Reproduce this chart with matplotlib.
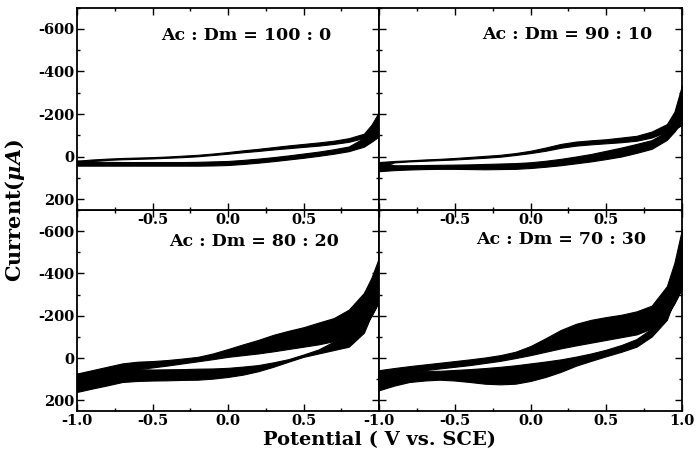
import numpy as np
import matplotlib.pyplot as plt
from matplotlib.ticker import MultipleLocator, FixedLocator

plt.rcParams['font.family'] = ['DejaVu Serif']
plt.rcParams['font.weight'] = 'bold'
plt.rcParams['mathtext.fontset'] = 'dejavuserif'
plt.rcParams['axes.unicode_minus'] = False

# potential grid (V vs. SCE)
potential = [-1.0, -0.9, -0.8, -0.7, -0.6, -0.5, -0.4, -0.3, -0.2, -0.1, 0.0,
             0.1, 0.2, 0.3, 0.4, 0.5, 0.6, 0.7, 0.8, 0.9, 0.95, 1.0]

# current envelopes (uA) of the cycle bundles: forward sweep band, reverse sweep band
# Ac : Dm = 100 : 0
fwd_top_100 = [19, 13, 9, 6, 4, 2, -1, -5, -9, -15, -22, -30, -37, -45, -53, -60, -67, -75, -87, -108, -150, -210]
fwd_bot_100 = [40, 20, 15, 12, 10, 8, 5, 2, -2, -8, -14, -21, -27, -34, -40, -46, -52, -60, -70, -88, -95, -100]
rev_top_100 = [18, 22, 24, 25, 25, 25, 25, 25, 24, 22, 20, 15, 9, 2, -6, -15, -24, -35, -48, -88, -95, -100]
rev_bot_100 = [42, 42, 42, 42, 42, 42, 42, 42, 42, 41, 39, 34, 28, 21, 13, 5, -4, -14, -26, -47, -70, -95]

# Ac : Dm = 90 : 10
fwd_top_90 = [25, 20, 17, 13, 10, 6, 1, -4, -9, -17, -28, -43, -60, -71, -77, -82, -90, -98, -118, -153, -211, -335]
fwd_bot_90 = [50, 27, 22, 19, 16, 13, 9, 5, 0, -8, -17, -28, -42, -52, -58, -63, -68, -75, -90, -118, -130, -150]
rev_top_90 = [25, 40, 40, 39, 38, 37, 36, 34, 32, 30, 26, 19, 10, -1, -13, -28, -43, -60, -78, -118, -130, -150]
rev_bot_90 = [68, 63, 60, 58, 57, 57, 58, 59, 58, 57, 53, 47, 40, 31, 22, 11, -1, -18, -37, -79, -118, -164]

# Ac : Dm = 80 : 20
fwd_top_80 = [73, 57, 41, 25, 17, 14, 9, 2, -6, -22, -43, -65, -86, -110, -129, -146, -168, -189, -229, -308, -380, -475]
fwd_bot_80 = [100, 80, 60, 54, 52, 44, 35, 25, 15, 5, -6, -14, -22, -32, -43, -54, -65, -80, -110, -150, -200, -268]
rev_top_80 = [73, 65, 58, 54, 52, 54, 53, 52, 50, 49, 46, 40, 33, 20, 5, -17, -41, -78, -110, -150, -200, -268]
rev_bot_80 = [160, 144, 129, 113, 108, 106, 105, 103, 102, 97, 89, 78, 62, 41, 17, -6, -22, -38, -54, -120, -205, -268]

# Ac : Dm = 70 : 30
fwd_top_70 = [57, 47, 38, 30, 22, 14, 6, -3, -14, -30, -57, -94, -133, -162, -181, -194, -205, -221, -248, -340, -451, -610]
fwd_bot_70 = [120, 90, 70, 57, 49, 41, 33, 23, 13, 0, -14, -30, -46, -60, -73, -86, -99, -112, -140, -200, -260, -330]
rev_top_70 = [120, 90, 70, 60, 60, 56, 52, 47, 41, 34, 25, 16, 6, -7, -22, -40, -62, -90, -140, -200, -260, -330]
rev_bot_70 = [152, 130, 113, 106, 102, 106, 113, 121, 124, 121, 108, 89, 65, 36, 13, -9, -30, -54, -102, -181, -276, -387]

ratios = ['Ac : Dm = 100 : 0', 'Ac : Dm = 90 : 10', 'Ac : Dm = 80 : 20', 'Ac : Dm = 70 : 30']
bands = [
    (fwd_top_100, fwd_bot_100, rev_top_100, rev_bot_100),
    (fwd_top_90, fwd_bot_90, rev_top_90, rev_bot_90),
    (fwd_top_80, fwd_bot_80, rev_top_80, rev_bot_80),
    (fwd_top_70, fwd_bot_70, rev_top_70, rev_bot_70),
]
label_pos = [(0.12, -570), (0.24, -572), (0.17, -552), (0.2, -562)]

fig = plt.figure(figsize=(6.96, 4.57), dpi=100)
W, H = 696.0, 457.0
rects = [
    [77 / W, 1 - 210 / H, 302 / W, 202.5 / H],
    [379 / W, 1 - 210 / H, 303 / W, 202.5 / H],
    [77 / W, 1 - 411 / H, 302 / W, 201 / H],
    [379 / W, 1 - 411 / H, 303 / W, 201 / H],
]
xtick_labels = [
    ['', '-0.5', '0.0', '0.5', ''],
    ['', '-0.5', '0.0', '0.5', ''],
    ['-1.0', '-0.5', '0.0', '0.5', ''],
    ['-1.0', '-0.5', '0.0', '0.5', '1.0'],
]

for i, rect in enumerate(rects):
    ax = fig.add_axes(rect, zorder=2 if i < 2 else 1)
    ft, fb, rt, rb = bands[i]
    ax.fill_between(potential, ft, fb, color='black', lw=0.8)
    ax.fill_between(potential, rt, rb, color='black', lw=0.8)

    ax.set_xlim(-1.0, 1.0)
    ax.set_ylim(250, -700)
    ax.xaxis.set_major_locator(FixedLocator([-1.0, -0.5, 0.0, 0.5, 1.0]))
    ax.xaxis.set_minor_locator(MultipleLocator(0.25))
    ax.set_xticklabels(xtick_labels[i])
    ax.yaxis.set_major_locator(FixedLocator([-600, -400, -200, 0, 200]))
    ax.yaxis.set_minor_locator(MultipleLocator(100))
    if i % 2 == 0:
        ax.set_yticklabels(['-600', '-400', '-200', '0', '200'])
    else:
        ax.set_yticklabels([])
    ax.tick_params(which='both', direction='in', top=True, right=True, width=1)
    ax.tick_params(which='major', length=5, labelsize=10.5, pad=2)
    ax.tick_params(which='minor', length=2.5)
    for sp in ax.spines.values():
        sp.set_linewidth(1.3)

    ax.text(label_pos[i][0], label_pos[i][1], ratios[i], ha='center', va='center',
            fontsize=12.5, fontweight='bold')

fig.text(0.545, 0.037, 'Potential ( V vs. SCE)', ha='center', va='center',
         fontsize=14, fontweight='bold')
fig.text(0.022, 0.54, r'Current($\mu A$)', ha='center', va='center',
         rotation=90, fontsize=15, fontweight='bold')

fig.savefig('out.png', dpi=100)
